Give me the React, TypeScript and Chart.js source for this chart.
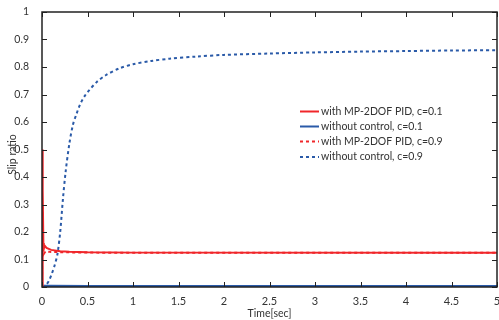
import React, { useEffect, useRef } from "react";
import { Chart, registerables } from "chart.js";

Chart.register(...registerables);

const xTicks = [0, 0.5, 1, 1.5, 2, 2.5, 3, 3.5, 4, 4.5, 5];
const yTicks = [0, 0.1, 0.2, 0.3, 0.4, 0.5, 0.6, 0.7, 0.8, 0.9, 1];

const seriesNames = [
  "with MP-2DOF PID, c=0.1",
  "without control, c=0.1",
  "with MP-2DOF PID, c=0.9",
  "without control, c=0.9",
];
const yTitle = "Slip ratio";

const redSolidT = [0, 0.005, 0.01, 0.015, 0.02, 0.03, 0.05, 0.1, 0.2, 0.3, 0.5, 1, 5];
const redSolidY = [0, 0.5, 0.35, 0.16, 0.14, 0.15, 0.142, 0.135, 0.13, 0.128, 0.126, 0.125, 0.125];

const blueSolidT = [0, 0.02, 0.1, 0.5, 1, 2, 3, 4, 5];
const blueSolidY = [0, 0.004, 0.004, 0.003, 0.003, 0.003, 0.003, 0.003, 0.003];

const redDashT = [0, 0.005, 0.01, 0.02, 0.04, 0.08, 0.15, 0.3, 0.6, 1, 5];
const redDashY = [0, 0.3, 0.15, 0.12, 0.13, 0.128, 0.127, 0.126, 0.125, 0.125, 0.125];

const blueDashT = [0, 0.05, 0.08, 0.11, 0.14, 0.17, 0.2, 0.23, 0.26, 0.3, 0.34, 0.38, 0.42, 0.47, 0.52, 0.6, 0.7, 0.85, 1.0, 1.2, 1.4, 1.7, 2.0, 2.5, 3.0, 3.5, 4.0, 4.5, 5.0];
const blueDashY = [0, 0.01, 0.025, 0.05, 0.08, 0.12, 0.2, 0.32, 0.42, 0.52, 0.59, 0.63, 0.665, 0.695, 0.716, 0.745, 0.77, 0.795, 0.81, 0.822, 0.83, 0.838, 0.844, 0.849, 0.853, 0.856, 0.858, 0.86, 0.861];

const RED = "#f0262a";
const BLUE = "#2a5aa8";
const FONT = "Lato";

const pts = (t: number[], y: number[]) => t.map((v, i) => ({ x: v, y: y[i] }));

const boxPlugin = {
  id: "matlabBox",
  afterDraw(chart: any) {
    const { ctx, chartArea: a, scales } = chart;
    ctx.save();
    ctx.strokeStyle = "#222";
    ctx.lineWidth = 1;
    const L = 5;
    ctx.beginPath();
    xTicks.forEach((v) => {
      const px = Math.round(scales.x.getPixelForValue(v)) + 0.5;
      ctx.moveTo(px, a.bottom);
      ctx.lineTo(px, a.bottom - L);
      ctx.moveTo(px, a.top);
      ctx.lineTo(px, a.top + L);
    });
    yTicks.forEach((v) => {
      const py = Math.round(scales.y.getPixelForValue(v)) + 0.5;
      ctx.moveTo(a.left, py);
      ctx.lineTo(a.left + L, py);
      ctx.moveTo(a.right, py);
      ctx.lineTo(a.right - L, py);
    });
    ctx.stroke();
    ctx.lineWidth = 1.5;
    ctx.strokeRect(a.left, a.top, a.right - a.left, a.bottom - a.top);
    ctx.restore();

    // y axis title
    ctx.save();
    ctx.fillStyle = "#333";
    ctx.font = `10.5px ${FONT}`;
    ctx.textAlign = "center";
    ctx.textBaseline = "middle";
    ctx.translate(12.5, (a.top + a.bottom) / 2 + 5);
    ctx.rotate(-Math.PI / 2);
    ctx.fillText(yTitle, 0, 0);
    ctx.restore();

    // legend
    ctx.save();
    const x0 = 300, x1 = 319, tx = 321;
    const rows = [111.5, 126.5, 141.5, 157];
    chart.data.datasets.forEach((ds: any, i: number) => {
      ctx.beginPath();
      ctx.strokeStyle = ds.borderColor;
      ctx.lineWidth = 2;
      ctx.setLineDash(ds.borderDash || []);
      ctx.moveTo(x0, rows[i]);
      ctx.lineTo(x1, rows[i]);
      ctx.stroke();
      ctx.setLineDash([]);
      ctx.fillStyle = "#333";
      ctx.font = `10.5px ${FONT}`;
      ctx.textBaseline = "middle";
      ctx.fillText(ds.label, tx, rows[i]);
    });
    ctx.restore();
  },
};

export default function App() {
  const ref = useRef<HTMLCanvasElement>(null);
  useEffect(() => {
    document.body.style.margin = "0";
    const chart = new Chart(ref.current!, {
      type: "line",
      data: {
        datasets: [
          { label: seriesNames[0], data: pts(redSolidT, redSolidY), borderColor: RED, borderWidth: 2, pointRadius: 0 },
          { label: seriesNames[1], data: pts(blueSolidT, blueSolidY), borderColor: BLUE, borderWidth: 2.5, pointRadius: 0 },
          { label: seriesNames[2], data: pts(redDashT, redDashY), borderColor: RED, borderWidth: 2, borderDash: [3, 3], pointRadius: 0 },
          { label: seriesNames[3], data: pts(blueDashT, blueDashY), borderColor: BLUE, borderWidth: 2, borderDash: [3, 3], pointRadius: 0, tension: 0.3 },
        ],
      },
      options: {
        animation: false,
        responsive: false,
        maintainAspectRatio: false,
        layout: { padding: { top: 12, right: 2, left: 0, bottom: 0 } },
        plugins: { legend: { display: false }, tooltip: { enabled: false } },
        scales: {
          x: {
            type: "linear",
            min: 0,
            max: 5,
            afterBuildTicks: (s: any) => { s.ticks = xTicks.map((v) => ({ value: v })); },
            afterFit: (s: any) => { s.height = 33; s.paddingLeft = 0; s.paddingRight = 0; },
            grid: { display: false },
            border: { display: false },
            ticks: { color: "#333", font: { family: FONT, size: 11 }, padding: 0, maxRotation: 0, autoSkip: false, callback: (v: any) => String(v) },
            title: { display: true, text: "Time[sec]", color: "#333", font: { family: FONT, size: 10.5 }, padding: { top: -2, bottom: 0 } },
          },
          y: {
            min: 0,
            max: 1,
            afterBuildTicks: (s: any) => { s.ticks = yTicks.map((v) => ({ value: v })); },
            afterFit: (s: any) => { s.width = 42; s.paddingTop = 0; s.paddingBottom = 0; },
            grid: { display: false },
            border: { display: false },
            ticks: { color: "#333", font: { family: FONT, size: 10.5 }, padding: 5, autoSkip: false, callback: (v: any) => String(v) },
          },
        },
      },
      plugins: [boxPlugin],
    });
    return () => chart.destroy();
  }, []);
  return (
    <div style={{ width: 499, height: 320, background: "#fff" }}>
      <canvas ref={ref} width={499} height={320} />
    </div>
  );
}
